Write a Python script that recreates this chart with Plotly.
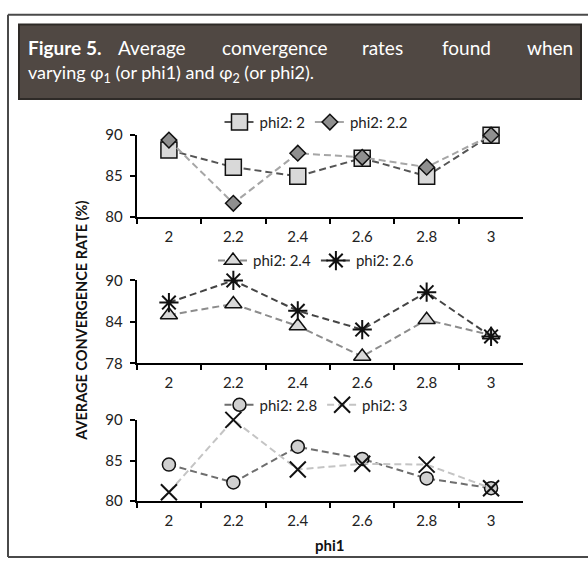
import plotly.graph_objects as go

categories = ["2", "2.2", "2.4", "2.6", "2.8", "3"]
phi2_2 = [88.2, 86.1, 85.0, 87.2, 85.0, 90.0]
phi2_22 = [89.4, 81.7, 87.8, 87.3, 86.1, 90.0]
phi2_24 = [85.0, 86.6, 83.4, 79.0, 84.3, 82.1]
phi2_26 = [86.8, 90.0, 85.6, 82.9, 88.3, 81.9]
phi2_28 = [84.5, 82.3, 86.7, 85.2, 82.8, 81.6]
phi2_3 = [81.1, 90.0, 83.9, 84.6, 84.5, 81.6]
yticks_top = [80, 85, 90]
yticks_mid = [78, 84, 90]
yticks_bot = [80, 85, 90]

W, H = 588, 567
FONT = "Lato"

def px(x):
    return x / W

def py(y):
    return 1 - y / H

fig = go.Figure()

DASH = "7px,4px"

def add(name, y, xa, ya, leg, symbol, size, fill, mline, lcolor, mlw=1.5):
    fig.add_trace(go.Scatter(
        x=categories, y=y, name=name, mode="lines+markers",
        xaxis=xa, yaxis=ya, legend=leg, cliponaxis=False,
        line=dict(color=lcolor, width=2, dash=DASH),
        marker=dict(symbol=symbol, size=size, color=fill,
                    line=dict(color=mline, width=mlw)),
    ))

add("phi2: 2", phi2_2, "x", "y", "legend", "square", 16, "#d9d9d9", "#111111", "#555555")
add("phi2: 2.2", phi2_22, "x", "y", "legend", "diamond", 12, "#8f8f8f", "#111111", "#a6a6a6")
add("phi2: 2.4", phi2_24, "x2", "y2", "legend2", "triangle-up", 15, "#d9d9d9", "#111111", "#8c8c8c")
add("phi2: 2.6", phi2_26, "x2", "y2", "legend2", "asterisk-open", 16, "#111111", "#111111", "#444444", 2)
add("phi2: 2.8", phi2_28, "x3", "y3", "legend3", "circle", 13, "#d0d0d0", "#111111", "#6e6e6e")
add("phi2: 3", phi2_3, "x3", "y3", "legend3", "x-thin-open", 16, "#111111", "#111111", "#c4c4c4", 2)

xdom = [px(136.7), px(523.3)]
panels = [
    ("", (129.3, 214.0), [80, 90], yticks_top),
    ("2", (279.3, 365.0), [78, 90], yticks_mid),
    ("3", (423.3, 507.3), [80, 90], yticks_bot),
]
tickfont = dict(family=FONT, size=15, color="#222222")
for suf, (top, bot), rng, tv in panels:
    fig.update_layout(**{
        "xaxis" + suf: dict(
            domain=xdom, type="category", range=[-0.5, 5.5], anchor="y" + suf,
            tickson="boundaries", ticks="outside", ticklen=5, tickwidth=1.5,
            tickcolor="#000", showline=True, linecolor="#000", linewidth=2,
            showgrid=False, zeroline=False, tickfont=tickfont,
            ticklabelstandoff=5,
        ),
        "yaxis" + suf: dict(
            domain=[py(bot), py(top)], range=rng, anchor="x" + suf,
            tickvals=tv, ticks="outside", ticklen=5, tickwidth=1.5,
            tickcolor="#000", showline=True, linecolor="#000", linewidth=2,
            showgrid=False, zeroline=False, tickfont=tickfont,
            ticklabelstandoff=4,
        ),
    })

legfont = dict(family=FONT, size=15, color="#222222")
def leg(xc, yc):
    return dict(orientation="h", x=px(xc), y=py(yc), xanchor="center",
                yanchor="middle", font=legfont, itemwidth=30,
                bgcolor="rgba(0,0,0,0)", tracegroupgap=0)

fig.update_layout(
    width=W, height=H, margin=dict(l=0, r=0, t=0, b=0),
    paper_bgcolor="white", plot_bgcolor="white",
    showlegend=True,
    legend=leg(316, 116),
    legend2=leg(316, 259),
    legend3=leg(316, 408),
)

# frame and title box
shapes = [
    dict(type="line", xref="paper", yref="paper", x0=px(8), x1=px(8), y0=py(5), y1=py(565),
         line=dict(color="#4a4a4a", width=2)),
    dict(type="line", xref="paper", yref="paper", x0=px(8), x1=1, y0=py(5), y1=py(5),
         line=dict(color="#4a4a4a", width=2)),
    dict(type="line", xref="paper", yref="paper", x0=px(8), x1=1, y0=py(565), y1=py(565),
         line=dict(color="#4a4a4a", width=2)),
    dict(type="rect", xref="paper", yref="paper", x0=px(19), x1=px(581), y0=py(92), y1=py(15),
         fillcolor="#504843", line=dict(color="#2e2a27", width=2), layer="below"),
]
fig.update_layout(shapes=shapes)

title_font = dict(family=FONT, size=19, color="white")
words = [("<b>Figure 5.</b>", 26, "left"), ("Average", 116, "left"),
         ("convergence", 220, "left"), ("rates", 360, "left"),
         ("found", 440, "left"), ("when", 575, "right")]
annos = []
for t, x, anc in words:
    annos.append(dict(text=t, x=px(x), y=py(39), xref="paper", yref="paper",
                      xanchor=anc, yanchor="middle", showarrow=False, font=title_font))
annos.append(dict(text="varying φ<sub>1</sub> (or phi1) and φ<sub>2</sub> (or phi2).",
                  x=px(26), y=py(66), xref="paper", yref="paper", xanchor="left",
                  yanchor="middle", showarrow=False, font=dict(family=FONT, size=18, color="white")))
annos.append(dict(text="<b>AVERAGE CONVERGENCE RATE (%)</b>", x=px(82), y=py(321),
                  xref="paper", yref="paper", textangle=-90, showarrow=False,
                  xanchor="center", yanchor="middle",
                  font=dict(family=FONT, size=14.5, color="#111111")))
annos.append(dict(text="<b>phi1</b>", x=px(330), y=py(553), xref="paper", yref="paper",
                  showarrow=False, xanchor="center", yanchor="middle",
                  font=dict(family=FONT, size=15, color="#111111")))
fig.update_layout(annotations=annos)

fig.write_html("out.html")
